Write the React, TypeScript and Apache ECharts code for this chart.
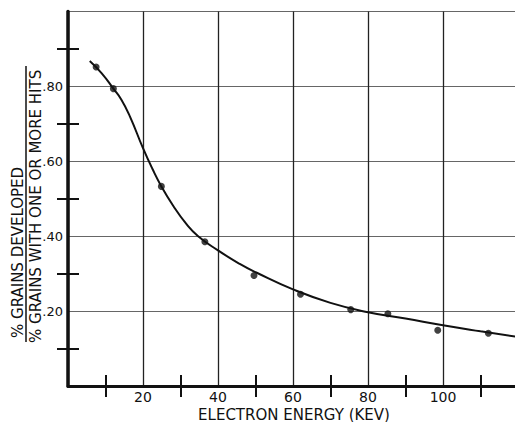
import React, { useEffect, useRef } from "react";
import * as echarts from "echarts";

// Measured points (electron energy in keV, ratio)
const energyKev = [7.5, 12.1, 24.9, 36.5, 49.6, 62.0, 75.4, 85.3, 98.6, 112.1];
const grainRatio = [0.852, 0.794, 0.533, 0.385, 0.295, 0.245, 0.204, 0.193, 0.149, 0.141];

// Hand-drawn fitted curve
const curveKev = [5.8, 9, 12.1, 14.2, 16.5, 20, 22.5, 24.9, 28, 31.6, 34.7, 40, 45.8, 50.2, 60, 70, 80, 90, 100, 110, 120];
const curveRatio = [0.868, 0.835, 0.794, 0.765, 0.72, 0.635, 0.58, 0.533, 0.482, 0.432, 0.4, 0.362, 0.326, 0.303, 0.258, 0.222, 0.197, 0.18, 0.162, 0.146, 0.131];

const xTitle = "ELECTRON ENERGY (KEV)";
const yTitleTop = "% GRAINS DEVELOPED";
const yTitleBottom = "% GRAINS WITH ONE OR MORE HITS";

const FONT = "DejaVu Sans";
const INK = "#111";

export default function App() {
  const ref = useRef<HTMLDivElement>(null);
  useEffect(() => {
    if (!ref.current) return;
    const chart = echarts.init(ref.current, null, { renderer: "svg" });
    const minorTick = { show: true, splitNumber: 2, length: 11, lineStyle: { color: INK, width: 2 } };
    chart.setOption({
      animation: false,
      backgroundColor: "#fff",
      grid: { left: 68, right: -3, top: 11.5, bottom: 36, containLabel: false, outerBoundsMode: "none" },
      xAxis: [
        {
          type: "value",
          position: "bottom",
          min: 0,
          max: 120,
          interval: 20,
          axisLine: { show: true, lineStyle: { color: INK, width: 2 } },
          axisTick: { show: false, inside: true },
          minorTick,
          axisLabel: {
            formatter: (v: number) => (v === 0 || v === 120 ? "" : String(v)),
            fontSize: 14,
            lineHeight: 14,
            fontFamily: FONT,
            color: INK,
            margin: 4,
          },
          splitLine: { show: true, lineStyle: { color: "#222", width: 1.3 } },
        },
        {
          type: "value",
          position: "top",
          min: 0,
          max: 120,
          interval: 20,
          axisLine: { show: true, lineStyle: { color: INK, width: 3 } },
          axisTick: { show: false, inside: true },
          minorTick,
          axisLabel: { show: false },
          splitLine: { show: false },
        },
      ],
      yAxis: [
        {
          type: "value",
          min: 0,
          max: 1,
          interval: 0.2,
          axisLine: { show: true, lineStyle: { color: INK, width: 3.5 } },
          axisTick: { show: false, inside: true },
          minorTick,
          axisLabel: {
            formatter: (v: number) => (v <= 0 || v >= 1 ? "" : "." + Math.round(v * 100)),
            fontSize: 13,
            fontFamily: FONT,
            color: INK,
            margin: 5,
          },
          splitLine: { show: true, lineStyle: { color: "#666", width: 1.2 } },
        },
        {
          type: "value",
          position: "right",
          min: 0,
          max: 1,
          interval: 0.2,
          axisLine: { show: false },
          axisTick: { show: false, inside: true },
          minorTick,
          axisLabel: { show: false },
          splitLine: { show: false },
        },
      ],
      graphic: [
        {
          type: "text",
          x: 294,
          y: 414.5,
          style: {
            text: xTitle,
            font: `15px "${FONT}"`,
            lineHeight: 14,
            fill: INK,
            align: "center",
            verticalAlign: "middle",
          },
        },
        {
          type: "text",
          x: 18,
          y: 338,
          rotation: Math.PI / 2,
          style: { text: yTitleTop, font: `15px "${FONT}"`, fill: INK, align: "left", verticalAlign: "middle" },
        },
        {
          type: "line",
          shape: { x1: 26, y1: 66, x2: 26, y2: 342 },
          style: { stroke: INK, lineWidth: 1.5 },
        },
        {
          type: "text",
          x: 36,
          y: 343,
          rotation: Math.PI / 2,
          style: { text: yTitleBottom, font: `15px "${FONT}"`, fill: INK, align: "left", verticalAlign: "middle" },
        },
      ],
      series: [
        {
          type: "line",
          xAxisIndex: 0,
          yAxisIndex: 0,
          data: curveKev.map((x, i) => [x, curveRatio[i]]),
          smooth: 0.5,
          symbol: "none",
          lineStyle: { color: INK, width: 2 },
          z: 3,
        },
        {
          type: "scatter",
          xAxisIndex: 0,
          yAxisIndex: 0,
          data: energyKev.map((x, i) => [x, grainRatio[i]]),
          symbolSize: 7,
          itemStyle: { color: INK },
          z: 4,
        },
      ],
    });
    return () => chart.dispose();
  }, []);
  return (
    <div
      ref={ref}
      style={{ position: "fixed", left: 0, top: 0, width: 515, height: 422, background: "#fff" }}
    />
  );
}
